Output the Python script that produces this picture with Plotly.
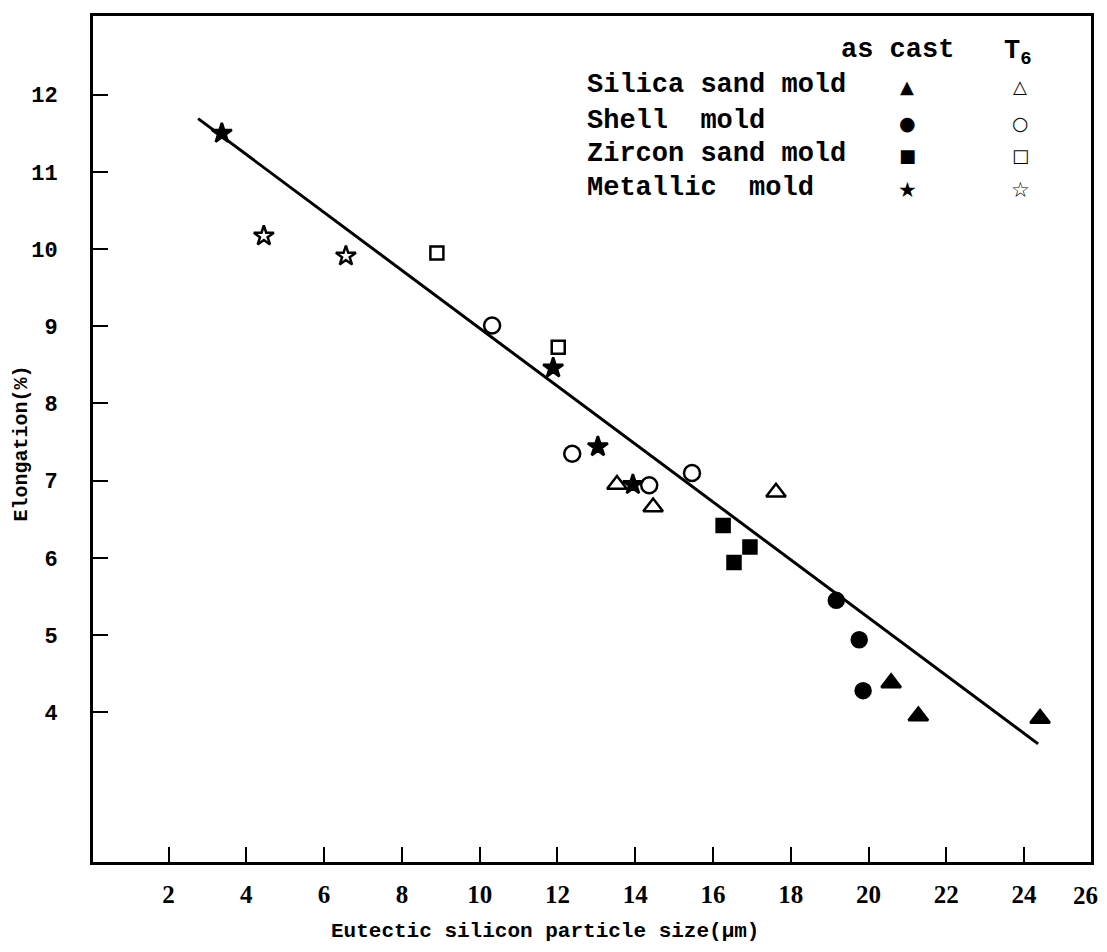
import plotly.graph_objects as go

# ---- data ----
silica_cast_x = [20.58, 21.28, 24.41]
silica_cast_y = [4.38, 3.95, 3.92]
silica_t6_x = [13.53, 14.46, 17.62]
silica_t6_y = [6.95, 6.66, 6.85]

shell_cast_x = [19.17, 19.76, 19.86]
shell_cast_y = [5.45, 4.94, 4.28]
shell_t6_x = [10.32, 12.38, 14.36, 15.46]
shell_t6_y = [9.01, 7.35, 6.94, 7.10]

zircon_cast_x = [16.26, 16.54, 16.95]
zircon_cast_y = [6.42, 5.94, 6.14]
zircon_t6_x = [8.90, 12.02]
zircon_t6_y = [9.95, 8.73]

metal_cast_x = [3.37, 11.89, 13.04, 13.94]
metal_cast_y = [11.50, 8.46, 7.44, 6.95]
metal_t6_x = [4.45, 6.56]
metal_t6_y = [10.17, 9.91]

fit_x = [2.76, 24.36]
fit_y = [11.69, 3.59]

x_ticks = [2, 4, 6, 8, 10, 12, 14, 16, 18, 20, 22, 24]
y_ticks = [4, 5, 6, 7, 8, 9, 10, 11, 12]

legend_rows = ["Silica\u00a0sand\u00a0mold", "Shell\u00a0\u00a0mold",
               "Zircon\u00a0sand\u00a0mold", "Metallic\u00a0\u00a0mold"]
legend_cast_sym = ["\u25b2", "\u25cf", "\u25a0", "\u2605"]
legend_t6_sym = ["\u25b3", "\u25cb", "\u25a1", "\u2606"]

fig = go.Figure()

fig.add_trace(go.Scatter(x=fit_x, y=fit_y, mode="lines",
                         line=dict(color="black", width=3), showlegend=False))

def add_pts(xs, ys, symbol, size):
    fig.add_trace(go.Scatter(
        x=xs, y=ys, mode="markers", showlegend=False,
        marker=dict(symbol=symbol, size=size, color="black",
                    line=dict(color="black", width=2.5))))

add_pts(silica_cast_x, silica_cast_y, "triangle-up", 17)
add_pts(silica_t6_x, silica_t6_y, "triangle-up-open", 17)
add_pts(shell_cast_x, shell_cast_y, "circle", 15)
add_pts(shell_t6_x, shell_t6_y, "circle-open", 16)
add_pts(zircon_cast_x, zircon_cast_y, "square", 13)
add_pts(zircon_t6_x, zircon_t6_y, "square-open", 13)
add_pts(metal_cast_x, metal_cast_y, "star", 15)
add_pts(metal_t6_x, metal_t6_y, "star-open", 15)

# page body has an 8px margin: work in page pixels, convert to figure pixels
OFF = 8
L, R, T, B = 93 - OFF, 1091 - OFF, 13 - OFF, 862 - OFF
W, H = 1107 - OFF, 952 - OFF

def px(xp):
    return (xp - OFF - L) / (R - L)

def py(yp):
    return (B - (yp - OFF)) / (B - T)

annotations = []
row_y = [82, 118, 151, 186]
mono = "Liberation Mono"
sym_sizes = [18, 19, 18, 21]
for i, name in enumerate(legend_rows):
    annotations.append(dict(x=px(585), y=py(row_y[i]), xref="paper", yref="paper",
                            text="<b>" + name + "</b>", showarrow=False,
                            xanchor="left", yanchor="middle",
                            font=dict(family=mono, size=27, color="black")))
    annotations.append(dict(x=px(907), y=py(row_y[i] + 2), xref="paper", yref="paper",
                            text=legend_cast_sym[i], showarrow=False,
                            xanchor="center", yanchor="middle",
                            font=dict(family="DejaVu Sans", size=sym_sizes[i], color="black")))
    annotations.append(dict(x=px(1020), y=py(row_y[i] + 2), xref="paper", yref="paper",
                            text="<b>" + legend_t6_sym[i] + "</b>", showarrow=False,
                            xanchor="center", yanchor="middle",
                            font=dict(family="DejaVu Sans", size=sym_sizes[i], color="black")))
annotations.append(dict(x=px(897), y=py(47), xref="paper", yref="paper",
                        text="<b>as cast</b>", showarrow=False,
                        xanchor="center", yanchor="middle",
                        font=dict(family=mono, size=27, color="black")))
annotations.append(dict(x=px(1018), y=py(50), xref="paper", yref="paper",
                        text="<b>T<sub>6</sub></b>", showarrow=False,
                        xanchor="center", yanchor="middle",
                        font=dict(family=mono, size=27, color="black")))
annotations.append(dict(x=px(1085), y=py(896), xref="paper", yref="paper",
                        text="<b>26</b>", showarrow=False,
                        xanchor="center", yanchor="middle",
                        font=dict(family="Liberation Serif", size=25, color="black")))
annotations.append(dict(x=px(545), y=py(932), xref="paper", yref="paper",
                        text="<b>Eutectic silicon particle size(\u03bcm)</b>", showarrow=False,
                        xanchor="center", yanchor="middle",
                        font=dict(family=mono, size=21, color="black")))
annotations.append(dict(x=px(21), y=py(442), xref="paper", yref="paper",
                        text="<b>Elongation(%)</b>", showarrow=False, textangle=-90,
                        xanchor="center", yanchor="middle",
                        font=dict(family=mono, size=20, color="black")))

fig.update_layout(
    width=W, height=H,
    margin=dict(l=L, r=W - R, t=T, b=H - B),
    paper_bgcolor="white", plot_bgcolor="white",
    showlegend=False,
    annotations=annotations,
    xaxis=dict(range=[0.057, 25.72], tickvals=x_ticks, ticktext=[str(v) for v in x_ticks],
               showgrid=False, zeroline=False,
               showline=True, linecolor="black", linewidth=3, mirror=True,
               ticks="inside", ticklen=15, tickwidth=2, tickcolor="black",
               ticklabelstandoff=8,
               tickfont=dict(family="Liberation Serif", size=25, color="black", weight="bold")),
    yaxis=dict(range=[2.06, 13.02], tickvals=y_ticks, ticktext=[str(v) for v in y_ticks],
               showgrid=False, zeroline=False,
               showline=True, linecolor="black", linewidth=3, mirror=True,
               ticks="inside", ticklen=15, tickwidth=2, tickcolor="black",
               ticklabelstandoff=28,
               tickfont=dict(family=mono, size=22, color="black", weight="bold")),
)

fig.write_html("out.html")
